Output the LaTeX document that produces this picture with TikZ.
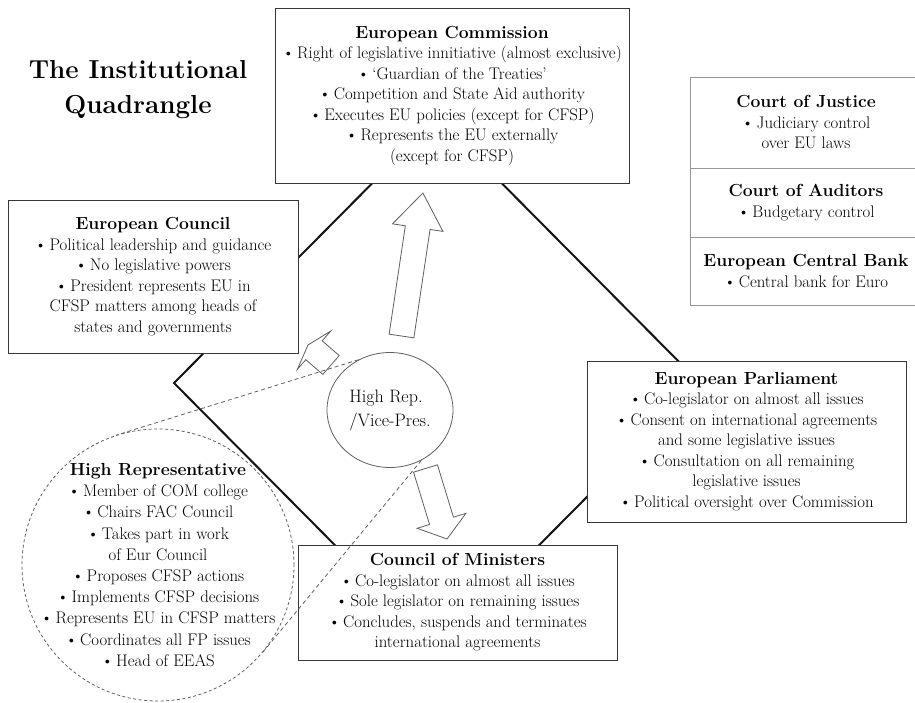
\documentclass[tikz,border=0pt]{standalone}
\usepackage{tikz}
\usetikzlibrary{shapes.geometric}
\definecolor{qdline}{RGB}{20,20,20}
\definecolor{qdbox}{RGB}{55,55,55}
\definecolor{qdcourt}{RGB}{150,150,150}
\definecolor{qdarrow}{RGB}{95,95,95}
\tikzstyle{institution} = [rectangle, draw=qdbox, line width=1pt, fill=white, align=center, inner sep=0pt, font=\fontsize{16.8}{20.5}\selectfont]
\tikzstyle{court} = [rectangle, draw=qdcourt, line width=0.9pt, fill=white, align=center, inner sep=0pt, minimum width=232, font=\fontsize{16.8}{20.5}\selectfont]
\tikzstyle{quadline} = [line width=2pt, color=qdline]
\tikzstyle{hollowarrow} = [draw=qdarrow, fill=white, line width=0.8pt, line join=miter]
\tikzstyle{zoomline} = [draw=qdarrow, line width=0.8pt, dash pattern=on 4pt off 3pt]
\newcommand{\hd}[1]{{\fontsize{17.5}{20.5}\selectfont\bfseries #1}}
\newcommand{\blt}{\textbullet\,}
% base, angle, length, head length
\newcommand{\blockarrow}[4]{\draw[hollowarrow, shift={#1}, rotate=#2] (0,-12.5) -- ({#3-#4},-12.5) -- ({#3-#4},-25.5) -- (#3,0) -- ({#3-#4},25.5) -- ({#3-#4},12.5) -- (0,12.5) -- cycle;}
\begin{document}
\begin{tikzpicture}[x=1pt, y=-1pt]
\useasboundingbox (0,0) rectangle (915,702);

% Quadrangle
\draw[quadline] (437,118) -- (700,383) -- (437,648) -- (174,383) -- cycle;

% Title
\node[font=\fontsize{26}{35}\selectfont\bfseries, align=center] (title) at (138,90) {The Institutional\\Quadrangle};

% Commission
\node[institution, minimum width=354, minimum height=175] (com) at (452,95.5) {\hd{European Commission}\\
\blt Right of legislative innitiative (almost exclusive)\\
\blt ‘Guardian of the Treaties’\\
\blt Competition and State Aid authority\\
\blt Executes EU policies (except for CFSP)\\
\blt Represents the EU externally\\
(except for CFSP)};

% Courts and bank
\node[court, minimum height=91] (cj) at (806,122.5) {\hd{Court of Justice}\\ \blt Judiciary control\\ over EU laws};
\node[court, minimum height=69] (ca) at (806,202.5) {\hd{Court of Auditors}\\ \blt Budgetary control};
\node[court, minimum height=68] (ecb) at (806,271) {\hd{European Central Bank}\\ \blt Central bank for Euro};

% European Council
\node[institution, minimum width=290, minimum height=153] (euco) at (153,276.5) {\hd{European Council}\\
\blt Political leadership and guidance\\
\blt No legislative powers\\
\blt President represents EU in\\
CFSP matters among heads of\\
states and governments};

% European Parliament
\node[institution, minimum width=319, minimum height=161] (ep) at (746.5,441.5) {\hd{European Parliament}\\
\blt Co-legislator on almost all issues\\
\blt Consent on international agreements\\
and some legislative issues\\
\blt Consultation on all remaining\\
legislative issues\\
\blt Political oversight over Commission};

% Council of Ministers
\node[institution, minimum width=319, minimum height=115] (cons) at (457.5,602.5) {\hd{Council of Ministers}\\
\blt Co-legislator on almost all issues\\
\blt Sole legislator on remaining issues\\
\blt Concludes, suspends and terminates\\
international agreements};

% Arrows from HR/VP
\blockarrow{(401.5,336)}{81.5}{144.6}{35}
\blockarrow{(331,365)}{139}{30.5}{8}
\blockarrow{(425.5,468.5)}{-73}{73.7}{19}

% HR/VP
\node[ellipse, draw=qdarrow, line width=0.8pt, fill=white, minimum width=126, minimum height=115, inner sep=0pt, align=left, font=\fontsize{18}{24}\selectfont] (hrvp) at (390,410) {High Rep.\\/Vice-Pres.};

% High Representative
\node[circle, draw=qdarrow, line width=0.8pt, dash pattern=on 3pt off 2.5pt, minimum size=272, inner sep=0pt] (hr) at (158,565) {};
\node[align=center, inner sep=0pt, font=\fontsize{16.8}{21.2}\selectfont] (hrtext) at (hr) {\hd{High Representative}\\
\blt Member of COM college\\
\blt Chairs FAC Council\\
\blt Takes part in work\\
of Eur Council\\
\blt Proposes CFSP actions\\
\blt Implements CFSP decisions\\
\blt Represents EU in CFSP matters\\
\blt Coordinates all FP issues\\
\blt Head of EEAS};

\draw[zoomline] (hrvp.122) -- (hr.108);
\draw[zoomline] (hrvp.302) -- (hr.319);
\end{tikzpicture}
\end{document}
